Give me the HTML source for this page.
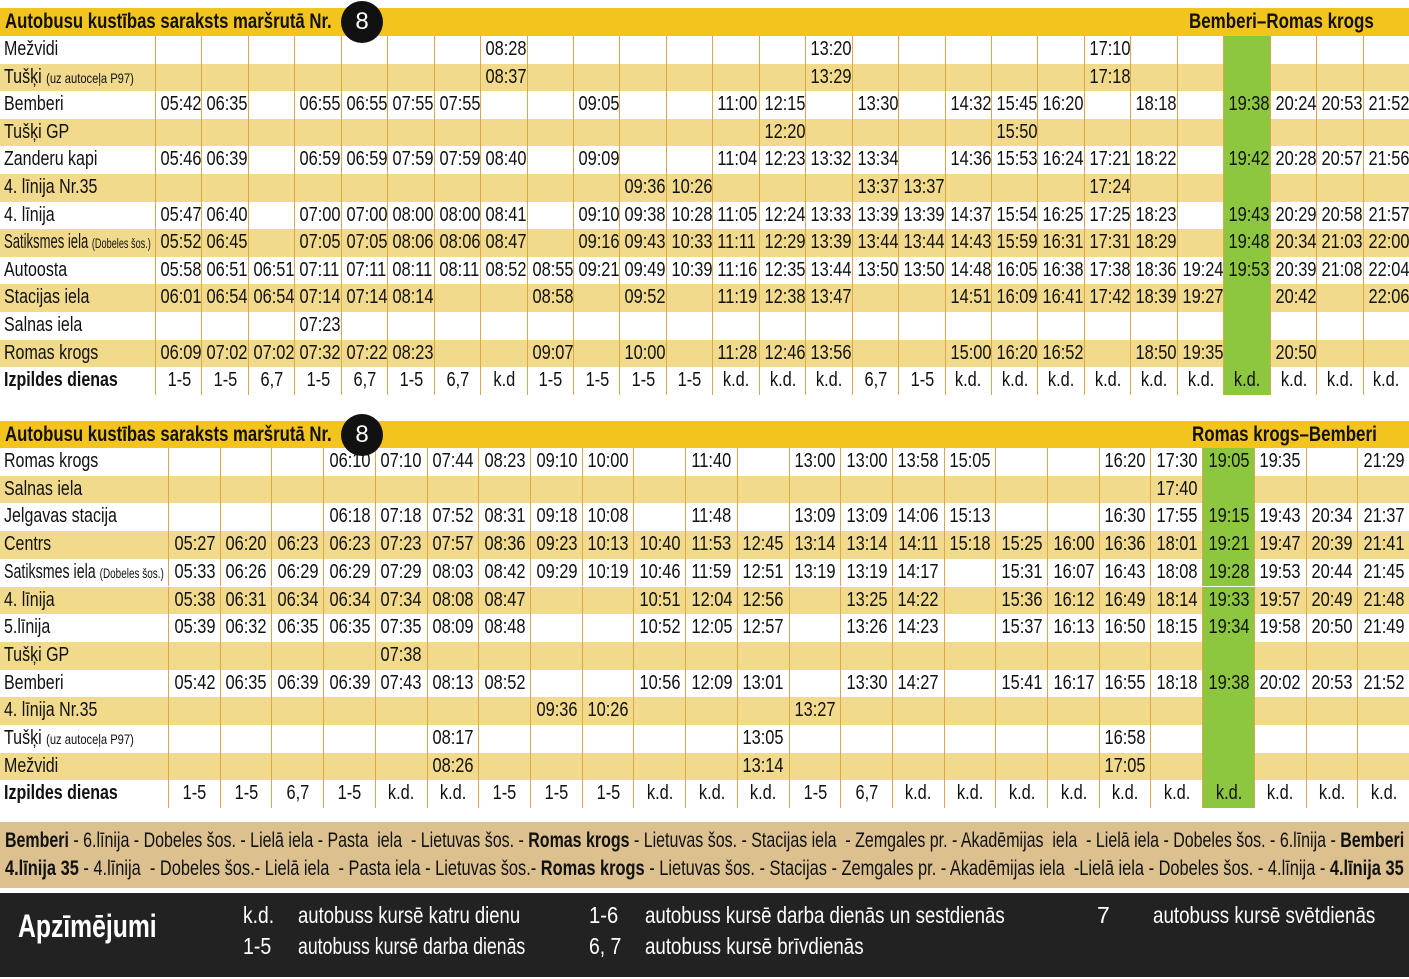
<!DOCTYPE html>
<html><head><meta charset="utf-8">
<style>
body{margin:0;width:1409px;height:979px;background:#fff;position:relative;overflow:hidden;font-family:"Liberation Sans",sans-serif;color:#111}
.a{position:absolute;box-sizing:border-box}
.s{display:inline-block;white-space:nowrap}
.hdr{background:#f3c41d;font-weight:bold;font-size:21px;white-space:nowrap}
.num{background:#111;color:#fff;border-radius:50%;width:42px;height:42px;text-align:center;line-height:42px;font-size:24px}
.cell{font-size:20px;text-align:center;white-space:nowrap;border-left:1.5px solid #d9a84a;overflow:hidden}
.cell .s{transform:scaleX(0.82);transform-origin:center}
.lbl{font-size:20px;white-space:nowrap;padding-left:4px;overflow:hidden}
.lbl .s{transform:scaleX(0.8);transform-origin:left center}
.sm{font-size:14px}
.dark{background:#222;color:#fff}
.fit{white-space:nowrap}
.fit .s{transform-origin:left center}
</style></head><body>
<div class="a" style="left:0;top:822px;width:1409px;height:66px;background:#dcc08e">
<div class="a fit" data-w="1399" style="left:5px;top:5px;font-size:21px;line-height:28px"><span class="s"><b>Bemberi</b> - 6.līnija - Dobeles šos. - Lielā iela - Pasta&nbsp; iela&nbsp; - Lietuvas šos. - <b>Romas krogs</b> - Lietuvas šos. - Stacijas iela&nbsp; - Zemgales pr. - Akadēmijas&nbsp; iela&nbsp; - Lielā iela - Dobeles šos. - 6.līnija - <b>Bemberi</b></span></div>
<div class="a fit" data-w="1399" style="left:5px;top:33px;font-size:21px;line-height:28px"><span class="s"><b>4.līnija 35</b> - 4.līnija&nbsp; - Dobeles šos.- Lielā iela&nbsp; - Pasta iela - Lietuvas šos.- <b>Romas krogs</b> - Lietuvas šos. - Stacijas - Zemgales pr. - Akadēmijas iela&nbsp; -Lielā iela - Dobeles šos. - 4.līnija - <b>4.līnija 35</b></span></div>
</div>
<div class="a dark" style="left:0;top:893px;width:1409px;height:84px">
<div class="a fit" data-w="139" style="left:18px;top:15px;font-size:32px;font-weight:bold"><span class="s">Apzīmējumi</span></div>
<div class="a fit" data-w="31" style="left:243px;top:9px;font-size:23px"><span class="s">k.d.</span></div>
<div class="a fit" data-w="222" style="left:298px;top:9px;font-size:23px"><span class="s">autobuss kursē katru dienu</span></div>
<div class="a fit" data-w="28" style="left:243px;top:40px;font-size:23px"><span class="s">1-5</span></div>
<div class="a fit" data-w="227" style="left:298px;top:40px;font-size:23px"><span class="s">autobuss kursē darba dienās</span></div>
<div class="a fit" data-w="29" style="left:589px;top:9px;font-size:23px"><span class="s">1-6</span></div>
<div class="a fit" data-w="360" style="left:645px;top:9px;font-size:23px"><span class="s">autobuss kursē darba dienās un sestdienās</span></div>
<div class="a fit" data-w="32" style="left:589px;top:40px;font-size:23px"><span class="s">6, 7</span></div>
<div class="a fit" data-w="219" style="left:645px;top:40px;font-size:23px"><span class="s">autobuss kursē brīvdienās</span></div>
<div class="a" style="left:1097px;top:9px;font-size:23px">7</div>
<div class="a fit" data-w="222" style="left:1153px;top:9px;font-size:23px"><span class="s">autobuss kursē svētdienās</span></div>
</div>
<script>
const t1Labels=["Mežvidi","Tušķi <span class='sm'>(uz autoceļa P97)</span>","Bemberi","Tušķi GP","Zanderu kapi","4. līnija Nr.35","4. līnija","Satiksmes iela <span class='sm'>(Dobeles šos.)</span>","Autoosta","Stacijas iela","Salnas iela","Romas krogs","<b>Izpildes dienas</b>"];
const t1Rows=[
{7:"08:28",14:"13:20",20:"17:10"},
{7:"08:37",14:"13:29",20:"17:18"},
{0:"05:42",1:"06:35",3:"06:55",4:"06:55",5:"07:55",6:"07:55",9:"09:05",12:"11:00",13:"12:15",15:"13:30",17:"14:32",18:"15:45",19:"16:20",21:"18:18",23:"19:38",24:"20:24",25:"20:53",26:"21:52"},
{13:"12:20",18:"15:50"},
{0:"05:46",1:"06:39",3:"06:59",4:"06:59",5:"07:59",6:"07:59",7:"08:40",9:"09:09",12:"11:04",13:"12:23",14:"13:32",15:"13:34",17:"14:36",18:"15:53",19:"16:24",20:"17:21",21:"18:22",23:"19:42",24:"20:28",25:"20:57",26:"21:56"},
{10:"09:36",11:"10:26",15:"13:37",16:"13:37",20:"17:24"},
"05:47 06:40 - 07:00 07:00 08:00 08:00 08:41 - 09:10 09:38 10:28 11:05 12:24 13:33 13:39 13:39 14:37 15:54 16:25 17:25 18:23 - 19:43 20:29 20:58 21:57",
"05:52 06:45 - 07:05 07:05 08:06 08:06 08:47 - 09:16 09:43 10:33 11:11 12:29 13:39 13:44 13:44 14:43 15:59 16:31 17:31 18:29 - 19:48 20:34 21:03 22:00",
"05:58 06:51 06:51 07:11 07:11 08:11 08:11 08:52 08:55 09:21 09:49 10:39 11:16 12:35 13:44 13:50 13:50 14:48 16:05 16:38 17:38 18:36 19:24 19:53 20:39 21:08 22:04",
"06:01 06:54 06:54 07:14 07:14 08:14 - - 08:58 - 09:52 - 11:19 12:38 13:47 - - 14:51 16:09 16:41 17:42 18:39 19:27 - 20:42 - 22:06",
{3:"07:23"},
"06:09 07:02 07:02 07:32 07:22 08:23 - - 09:07 - 10:00 - 11:28 12:46 13:56 - - 15:00 16:20 16:52 - 18:50 19:35 - 20:50 - -",
"1-5 1-5 6,7 1-5 6,7 1-5 6,7 k.d 1-5 1-5 1-5 1-5 k.d. k.d. k.d. 6,7 1-5 k.d. k.d. k.d. k.d. k.d. k.d. k.d. k.d. k.d. k.d."];
const t2Labels=["Romas krogs","Salnas iela","Jelgavas stacija","Centrs","Satiksmes iela <span class='sm'>(Dobeles šos.)</span>","4. līnija","5.līnija","Tušķi GP","Bemberi","4. līnija Nr.35","Tušķi <span class='sm'>(uz autoceļa P97)</span>","Mežvidi","<b>Izpildes dienas</b>"];
const t2Rows=[
{3:"06:10",4:"07:10",5:"07:44",6:"08:23",7:"09:10",8:"10:00",10:"11:40",12:"13:00",13:"13:00",14:"13:58",15:"15:05",18:"16:20",19:"17:30",20:"19:05",21:"19:35",23:"21:29"},
{19:"17:40"},
{3:"06:18",4:"07:18",5:"07:52",6:"08:31",7:"09:18",8:"10:08",10:"11:48",12:"13:09",13:"13:09",14:"14:06",15:"15:13",18:"16:30",19:"17:55",20:"19:15",21:"19:43",22:"20:34",23:"21:37"},
"05:27 06:20 06:23 06:23 07:23 07:57 08:36 09:23 10:13 10:40 11:53 12:45 13:14 13:14 14:11 15:18 15:25 16:00 16:36 18:01 19:21 19:47 20:39 21:41",
"05:33 06:26 06:29 06:29 07:29 08:03 08:42 09:29 10:19 10:46 11:59 12:51 13:19 13:19 14:17 - 15:31 16:07 16:43 18:08 19:28 19:53 20:44 21:45",
"05:38 06:31 06:34 06:34 07:34 08:08 08:47 - - 10:51 12:04 12:56 - 13:25 14:22 - 15:36 16:12 16:49 18:14 19:33 19:57 20:49 21:48",
"05:39 06:32 06:35 06:35 07:35 08:09 08:48 - - 10:52 12:05 12:57 - 13:26 14:23 - 15:37 16:13 16:50 18:15 19:34 19:58 20:50 21:49",
{4:"07:38"},
"05:42 06:35 06:39 06:39 07:43 08:13 08:52 - - 10:56 12:09 13:01 - 13:30 14:27 - 15:41 16:17 16:55 18:18 19:38 20:02 20:53 21:52",
{7:"09:36",8:"10:26",12:"13:27"},
{5:"08:17",11:"13:05",18:"16:58"},
{5:"08:26",11:"13:14",18:"17:05"},
"1-5 1-5 6,7 1-5 k.d. k.d. 1-5 1-5 1-5 k.d. k.d. k.d. 1-5 6,7 k.d. k.d. k.d. k.d. k.d. k.d. k.d. k.d. k.d. k.d."];

function mk(cls,x,y,w,h,html,name,bg){
  const d=document.createElement('div');
  d.className='a '+cls;
  d.style.cssText=`left:${x}px;top:${y}px;width:${w}px;height:${h}px;line-height:${h}px;`+(bg?`background:${bg};`:'');
  d.innerHTML=html?`<span class="s">${html}</span>`:'';
  
  
  document.body.appendChild(d);return d;
}
function fitSpan(sp,w){sp.style.transformOrigin='left center';sp.style.transform=`scaleX(${w/sp.offsetWidth})`;}
function table(top,hh,hRight,rx,rw,labels,rows,labW,nCols,rowTop,rowH,green,tn){
  const h=mk('hdr',0,top,1409,hh,'','table'+tn+'-header');
  const t=document.createElement('span');t.className='s';t.textContent='Autobusu kustības saraksts maršrutā Nr.';
  t.style.cssText='position:absolute;left:5px;top:0';
  h.appendChild(t);fitSpan(t,327);
  const r=document.createElement('span');r.className='s';r.textContent=hRight;
  r.style.cssText=`position:absolute;left:${rx}px;top:0`;
  
  
  h.appendChild(r);fitSpan(r,rw);
  const n=mk('num',341,top-7,42,42,'8','route-number-badge');
  n.style.zIndex=5;
  const cw=(1409-labW)/nCols;
  rows.forEach((row,i)=>{
    let vals={};
    if(typeof row==='string'){row.split(' ').forEach((v,j)=>{if(v!=='-')vals[j]=v;});}else vals=row;
    const y=rowTop+i*rowH;
    const bg=(i%2===1)?'#f1da8c':null;
    if(bg)mk('',0,y,1409,rowH,'','row-stripe',bg);
    const lb=mk('lbl',0,y,labW,rowH,labels[i],'stop-label');
    const sp=lb.firstChild;
    const mw=labW-8;
    if(sp.offsetWidth*0.8>mw)sp.style.transform=`scaleX(${mw/sp.offsetWidth})`;
    for(let c=0;c<nCols;c++){
      const x=labW+c*cw;
      const g=(c===green)?'#8dc63f':null;
      mk('cell',x,y,cw+0.5,rowH,vals[c]||'','time-cell',g);
    }
  });
}
table(8,28,'Bemberi–Romas krogs',1189,185,t1Labels,t1Rows,155,27,36,27.6,23,1);
table(421,27,'Romas krogs–Bemberi',1192,185,t2Labels,t2Rows,168,24,448,27.7,20,2);
document.querySelectorAll('.fit').forEach(el=>fitSpan(el.firstElementChild,+el.dataset.w));
</script>
</body></html>
